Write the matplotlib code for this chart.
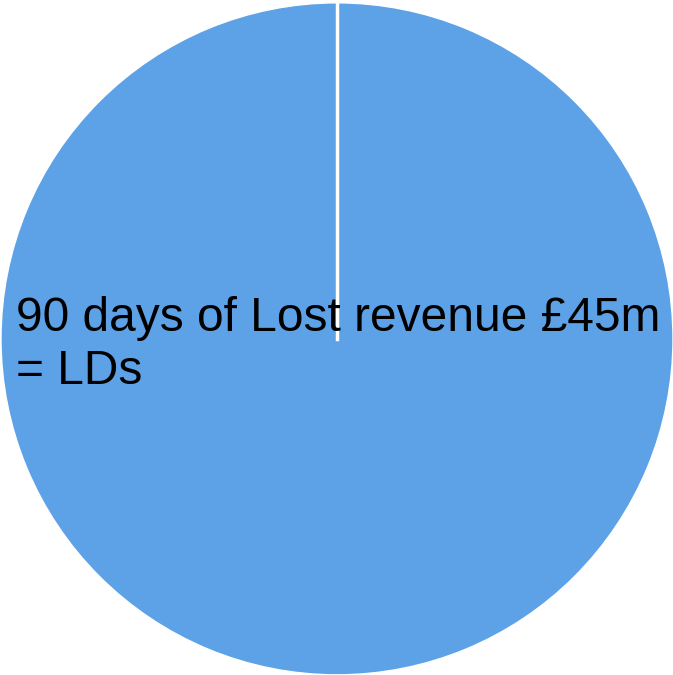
import matplotlib.pyplot as plt

labels = ["90 days of Lost revenue £45m\n= LDs"]
values = [45]
colors = ["#5DA2E6"]

fig = plt.figure(figsize=(6.73, 6.75), dpi=100)
ax = fig.add_axes([0, 0, 1, 1])
ax.pie(values, colors=colors, startangle=90, counterclock=False,
       radius=1.0, wedgeprops={"edgecolor": "white", "linewidth": 1.0})
# full wedge has no radial edge, draw the seam by hand
ax.plot([0, 0], [0, 1], color="white", linewidth=2.5)
ax.set_xlim(-1.003, 1.0)
ax.set_ylim(-1.0, 1.008)
ax.set_aspect("equal")
ax.axis("off")

ax.text(-0.955, -0.018, labels[0], ha="left", va="center",
        fontsize=34.5, family=["Liberation Sans", "DejaVu Sans"],
        linespacing=1.24)

fig.savefig("out.png", dpi=100)
